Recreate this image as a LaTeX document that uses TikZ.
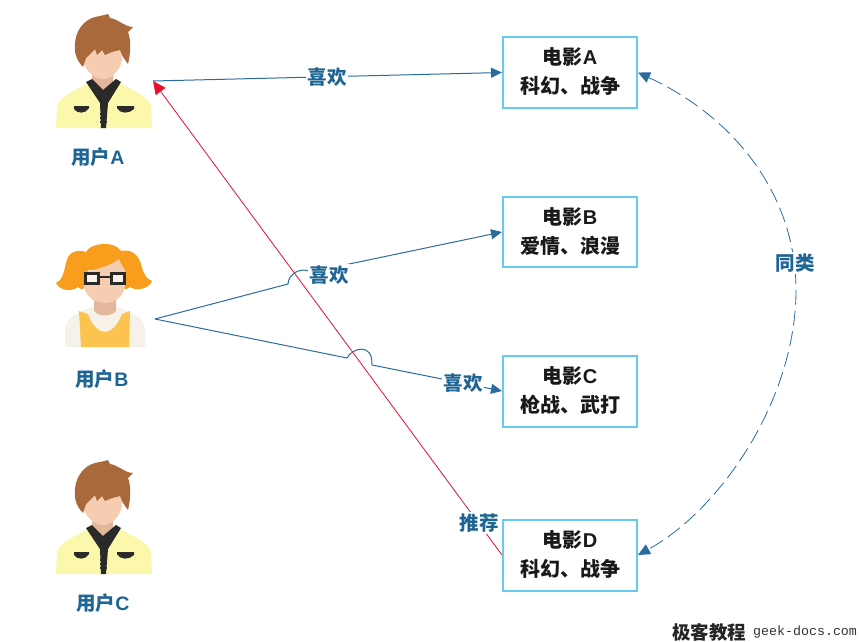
\documentclass[tikz,border=0pt]{standalone}
\usepackage{fontspec}
\usetikzlibrary{arrows.meta}
\newfontfamily\cjk{Noto Sans CJK SC}
\newfontfamily\latinlabel{Liberation Sans}
\setmonofont{Liberation Mono}
\definecolor{linkblue}{HTML}{2B6C9F}
\definecolor{labelblue}{HTML}{1F6594}
\definecolor{boxcyan}{HTML}{66CBF0}
\definecolor{redline}{HTML}{E8102A}
\definecolor{hairbrown}{HTML}{A9693A}
\definecolor{skin}{HTML}{F6CDB0}
\definecolor{neck}{HTML}{E3B79B}
\definecolor{jacket}{HTML}{FBF7AB}
\definecolor{darkcloth}{HTML}{2A2A2A}
\definecolor{hairorange}{HTML}{F99D1C}
\definecolor{vest}{HTML}{FDC34F}
\definecolor{shirt}{HTML}{F6F2EA}
\newcommand{\la}[1]{{\latinlabel\bfseries #1}}
\newcommand{\lowfix}{\rule[-3pt]{0pt}{1pt}}
\tikzset{
  moviebox/.style={draw=boxcyan,line width=2pt,fill=white,minimum width=134pt,minimum height=70pt,inner sep=0pt,align=center,text=black!90,font={\cjk\bfseries\fontsize{20}{29}\selectfont}},
  bluelabel/.style={text=labelblue,inner sep=1.5pt,font={\cjk\bfseries\fontsize{19.5}{23}\selectfont}},
  linklabel/.style={bluelabel,fill=white},
  linkline/.style={draw=linkblue,line width=1pt,-{Triangle[length=11pt,width=10pt,fill=linkblue]}},
  simline/.style={draw=linkblue,line width=0.8pt,dash pattern=on 15pt off 6pt,{Triangle[length=12pt,width=11pt,fill=linkblue]}-{Triangle[length=12pt,width=11pt,fill=linkblue]}},
  recline/.style={draw=redline,line width=0.8pt,-{Triangle[length=13pt,width=12pt,fill=redline]}},
}
\newcommand{\boyfigure}{%
  \fill[jacket] (56,128) -- (57,106) .. controls (60,96) and (76,90) .. (88,83) -- (120,83) .. controls (132,90) and (148,96) .. (151,106) -- (152,128) -- cycle;
  \fill[neck] (92,70) -- (92,83) -- (103,92) -- (113,83) -- (113,70) -- cycle;
  \fill[skin] (83,46) -- (83,60) .. controls (85,71) and (95,79) .. (103,79) .. controls (111,79) and (120,71) .. (122,60) -- (122,46) -- cycle;
  \fill[hairbrown] (83,67) .. controls (76,60) and (74,52) .. (75,43) .. controls (76,30) and (84,20) .. (95,17) .. controls (100,16) and (105,15) .. (108,14) -- (110,18) .. controls (118,19) and (125,27) .. (133,27) -- (128,32) .. controls (131,40) and (131,52) .. (128,64) -- (123,57) -- (120,50) -- (112,52) -- (105,55) -- (102,50) -- (97,55) -- (95,49) -- (86,58) -- cycle;
  \fill[darkcloth] (86,82) -- (92,79) -- (103,90) -- (116,79) -- (121,82) -- (108,103) -- (106,128) -- (101,128) -- (100,103) -- cycle;
  \fill[darkcloth] (74,106) -- (89,106) -- (89,108) .. controls (86,114) and (77,114) .. (74,109) -- cycle;
  \fill[darkcloth] (117,106) -- (134,106) -- (134,109) .. controls (129,114) and (120,114) .. (117,108) -- cycle;
  \foreach \zy in {113,117,121}{\fill[darkcloth] (100,\zy) rectangle (107,\zy+2);}
}
\newcommand{\girlfigure}{%
  \fill[shirt] (65,347) -- (65,328) .. controls (67,318) and (75,314) .. (92,307) -- (118,307) .. controls (135,314) and (143,318) .. (145,328) -- (145,347) -- cycle;
  \fill[vest] (79,311) -- (81,347) -- (129,347) -- (130,311) -- (122,314) .. controls (118,326) and (110,332) .. (105,332) .. controls (99,332) and (92,326) .. (88,314) -- cycle;
  \fill[neck] (94,295) -- (94,311) .. controls (100,317) and (110,317) .. (116,311) -- (116,295) -- cycle;
  \fill[hairorange] (56,283) .. controls (62,281) and (64,272) .. (66,263) .. controls (68,252) and (76,249) .. (86,252) .. controls (90,243) and (114,240) .. (121,251) .. controls (132,249) and (139,254) .. (142,268) .. controls (144,275) and (147,279) .. (152,281) .. controls (150,288) and (137,292) .. (130,287) .. controls (126,290) and (124,290) .. (122,285) -- (122,270) -- (88,270) -- (86,285) .. controls (84,290) and (81,290) .. (78,287) .. controls (72,292) and (60,291) .. (56,283) -- cycle;
  \fill[skin] (84,272) -- (84,286) .. controls (86,298) and (96,303) .. (105,303) .. controls (114,303) and (123,298) .. (125,286) -- (125,270) .. controls (122,266) and (120,262) .. (119,259) .. controls (110,266) and (95,270) .. (84,272) -- cycle;
  \fill[white!70!skin] (85.5,273.5) rectangle (98.5,283.5) (111.5,273.5) rectangle (124.5,283.5);
  \draw[darkcloth,line width=3pt] (85.5,273.5) rectangle (98.5,283.5);
  \draw[darkcloth,line width=3pt] (111.5,273.5) rectangle (124.5,283.5);
  \draw[darkcloth,line width=2.6pt] (98.5,277) -- (111.5,277);
}
\begin{document}
\begin{tikzpicture}[x=1pt,y=-1pt]
\useasboundingbox (0,0) rectangle (860,642);
\boyfigure
\begin{scope}[shift={(0,446)}]\boyfigure\end{scope}
\girlfigure
\node[bluelabel] (labA) at (98,157) {用户\la{A}};
\node[bluelabel] (labB) at (102,379) {用户\la{B}};
\node[bluelabel] (labC) at (103,603) {用户\la{C}};
\coordinate (userA) at (153,81);
\coordinate (userB) at (155,319);
\node[moviebox] (movieA) at (570,72.5) {电影\la{A}\\科幻、战争\lowfix};
\node[moviebox] (movieB) at (570,232) {电影\la{B}\\爱情、浪漫\lowfix};
\node[moviebox,minimum height=71pt] (movieC) at (570,391) {电影\la{C}\\枪战、武打\lowfix};
\node[moviebox,minimum height=71pt] (movieD) at (570,555) {电影\la{D}\\科幻、战争\lowfix};
\coordinate (jumpAs) at (288,284);
\coordinate (jumpAe) at (311,272);
\coordinate (jumpBs) at (347,358);
\coordinate (jumpBe) at (372,365);
\draw[linkline] (userA) -- (movieA.west);
\draw[linkline] (userB) -- (jumpAs) .. controls (288,275) and (300,266) .. (jumpAe) -- (movieB.west);
\draw[linkline] (userB) -- (jumpBs) .. controls (352,348) and (373,342) .. (jumpBe) -- (movieC.west);
\draw[recline] (movieD.west) -- (userA);
\draw[simline] (movieA.east) .. controls (740,120) and (796,200) .. (796,290) .. controls (796,400) and (720,510) .. (movieD.east);
\node[linklabel] (like1) at (327,77) {喜欢};
\node[linklabel] (like2) at (329,275) {喜欢};
\node[linklabel] (like3) at (463,383) {喜欢};
\node[linklabel] (same) at (795,263) {同类};
\node[linklabel] (rec) at (479,523) {推荐};
\node[anchor=west,inner sep=0pt,text=black!85,font={\cjk\bfseries\fontsize{18.5}{20}\selectfont}] (wm1) at (672,632) {极客教程};
\node[anchor=west,inner sep=0pt,text=black!80,font={\ttfamily\fontsize{13.3}{15}\selectfont}] (wm2) at (753,632) {geek-docs.com};
\end{tikzpicture}
\end{document}
